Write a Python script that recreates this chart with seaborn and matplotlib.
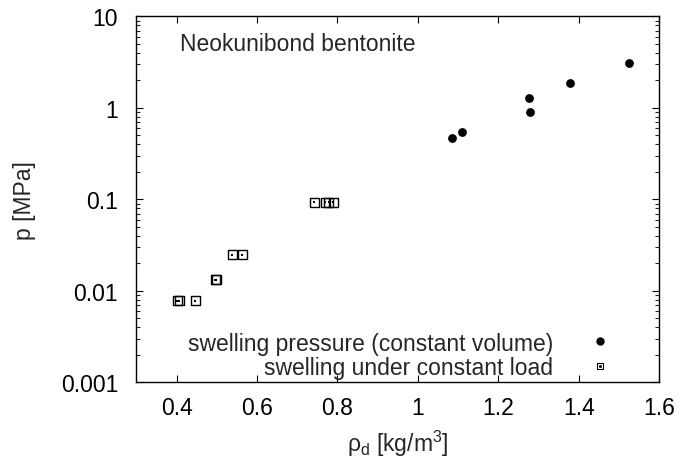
import matplotlib
matplotlib.use("Agg")
import matplotlib.pyplot as plt
import seaborn as sns
import pandas as pd
from matplotlib.lines import Line2D
from matplotlib.legend_handler import HandlerTuple
from matplotlib.ticker import LogLocator, FixedLocator, NullLocator

# Data
rho_cv = [1.084, 1.109, 1.276, 1.278, 1.378, 1.525]
p_cv = [0.473, 0.546, 1.285, 0.895, 1.89, 3.13]
rho_cl = [0.402, 0.407, 0.447, 0.496, 0.499, 0.538, 0.563, 0.742, 0.770, 0.778, 0.789]
p_cl = [0.0078, 0.0078, 0.0078, 0.0133, 0.0133, 0.0249, 0.0249, 0.093, 0.093, 0.093, 0.093]
xticks = [0.4, 0.6, 0.8, 1.0, 1.2, 1.4, 1.6]
xticklabels = ["0.4", "0.6", "0.8", "1", "1.2", "1.4", "1.6"]
yticks = [0.001, 0.01, 0.1, 1, 10]
yticklabels = ["0.001", "0.01", "0.1", "1", "10"]

FS = 16.5

sns.set_theme(style="ticks")
plt.rcParams['font.family'] = ['Liberation Sans', 'DejaVu Sans']
plt.rcParams['mathtext.fontset'] = 'custom'
plt.rcParams['mathtext.rm'] = 'Liberation Sans'
plt.rcParams['mathtext.it'] = 'Liberation Sans'

fig = plt.figure(figsize=(6.96, 4.64), dpi=100)
ax = fig.add_axes([0.1958, 0.1739, 0.9473 - 0.1958, 0.9623 - 0.1739])

df_cv = pd.DataFrame({"rho": rho_cv, "p": p_cv})
df_cl = pd.DataFrame({"rho": rho_cl, "p": p_cl})

sns.scatterplot(data=df_cv, x="rho", y="p", ax=ax, marker="o", s=40,
                color="black", edgecolor="black", linewidth=0, legend=False)
sns.scatterplot(data=df_cl, x="rho", y="p", ax=ax, marker="s", s=42,
                facecolor="none", edgecolor="black", linewidth=1.0, legend=False)
sns.scatterplot(data=df_cl, x="rho", y="p", ax=ax, marker="s", s=1.5,
                color="black", linewidth=0, legend=False)

ax.set_yscale("log")
ax.set_xlim(0.3, 1.6)
ax.set_ylim(0.001, 10)
ax.xaxis.set_major_locator(FixedLocator(xticks))
ax.set_xticklabels(xticklabels)
ax.xaxis.set_minor_locator(NullLocator())
ax.yaxis.set_major_locator(FixedLocator(yticks))
ax.set_yticklabels(yticklabels)
ax.yaxis.set_minor_locator(LogLocator(base=10, subs=range(2, 10)))

for sp in ax.spines.values():
    sp.set_linewidth(1.0)
    sp.set_color("black")
ax.tick_params(which="major", direction="in", length=5, width=0.8,
               top=True, right=True, labelsize=FS, colors="black", pad=10)
ax.tick_params(axis="y", which="major", pad=13)
ax.tick_params(which="minor", direction="in", length=3, width=0.8,
               top=False, right=True, left=True)

ax.set_xlabel(r"$\mathregular{\rho_d}$ [kg/m$\mathregular{^3}$]", fontsize=FS, labelpad=6)
ax.set_ylabel("p [MPa]", fontsize=FS, labelpad=18)

ax.text(0.308, 0.925, "Neokunibond bentonite", transform=ax.transAxes,
        fontsize=FS, ha="center", va="center")

h1 = Line2D([], [], marker="o", linestyle="none", color="black", markersize=5)
h2a = Line2D([], [], marker="s", linestyle="none", markerfacecolor="none",
             markeredgecolor="black", markersize=4.5, markeredgewidth=0.8)
h2b = Line2D([], [], marker="s", linestyle="none", color="black", markersize=1.0)
leg = ax.legend([h1, (h2a, h2b)],
                ["swelling pressure (constant volume)", "swelling under constant load"],
                handler_map={tuple: HandlerTuple(ndivide=1, pad=0)},
                loc="lower right", bbox_to_anchor=(0.9086, 0.01),
                frameon=False, markerfirst=False, fontsize=FS,
                handlelength=1.0, handletextpad=1.54, labelspacing=0.05,
                borderpad=0, borderaxespad=0)

fig.savefig("out.png", dpi=100)
